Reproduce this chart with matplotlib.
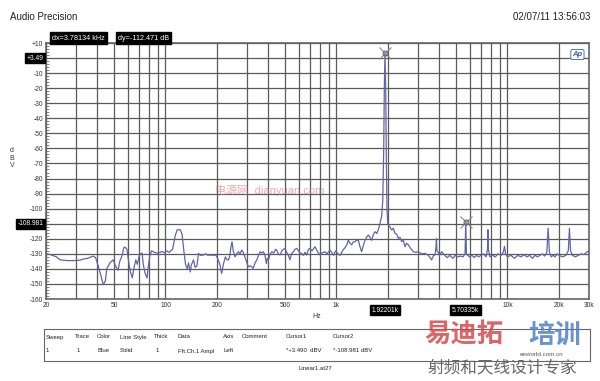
import matplotlib
matplotlib.use("Agg")
import matplotlib.pyplot as plt
import numpy as np

plt.rcParams['font.family'] = ['Liberation Sans', 'Noto Sans CJK SC', 'DejaVu Sans']

# FFT trace (Hz, dBV)
freq = [20, 21.2, 23, 24.2, 26.6, 29, 31.7, 33, 35, 37.7, 39, 40.4, 42, 43.2, 44.5, 45.3,
        47.3, 49.4, 51, 52.8, 54, 55.8, 57, 58, 59.5, 60.5, 62, 63.9, 65.5, 67, 68.4, 70,
        71.1, 73, 74.1, 76, 78, 79, 81, 83, 86, 89, 93, 96, 99.2, 101, 105, 110, 114, 117,
        122, 125, 128, 131, 134, 136.5, 139.5, 142, 145.9, 149, 152.7, 156, 160, 166.7, 172,
        177, 182, 190, 195, 199, 203, 208, 213, 218, 224, 229, 234, 238, 241, 245, 249, 255,
        261, 267, 273, 279, 285, 291, 297, 305, 315, 326, 334, 342, 350, 358, 366, 374, 382,
        389, 394, 400, 410, 419, 430, 440, 447, 457, 467, 480, 490, 500, 512, 523, 535, 545,
        560, 572, 585, 600, 612, 625, 640, 655, 669, 685, 700, 720, 749, 770, 801, 820, 857,
        880, 917, 937, 960, 990, 1020, 1050, 1073, 1100, 1121, 1150, 1173, 1200, 1227, 1255,
        1283, 1310, 1343, 1370, 1404, 1440, 1469, 1500, 1536, 1570, 1607, 1645, 1681, 1720,
        1758, 1797, 1838, 1865, 1890, 1905, 1922.01, 1940, 1955, 1975, 1995, 2010, 2050,
        2103, 2150, 2199, 2250, 2301, 2350, 2406, 2460, 2517, 2570, 2633, 2700, 2816, 2900,
        3011, 3150, 3294, 3450, 3603, 3700, 3769, 3820, 3844, 3870, 3942, 4000, 4123, 4300,
        4450, 4600, 4800, 4950, 5100, 5300, 5500, 5650, 5703.35, 5760, 5850, 6000, 6200,
        6400, 6600, 6800, 7000, 7250, 7500, 7650, 7690, 7730, 7900, 8200, 8500, 8800, 9200,
        9450, 9610, 9750, 10000, 10500, 11000, 11500, 12000, 12500, 13000, 13500, 14000,
        14500, 15000, 15500, 16000, 16500, 17000, 17300, 17600, 18000, 18500, 19000, 19500,
        20000, 21000, 22000, 22700, 23060, 23400, 24000, 25000, 26000, 27000, 28000, 29000,
        30000]
level = [-130, -130.5, -132, -134, -134.5, -134.5, -134.2, -133.5, -133, -131.5, -132.5,
         -138, -145, -150.5, -148, -140, -136, -134, -138, -141, -135, -131, -126, -125.5,
         -127, -133, -141, -146, -139, -134, -137, -132, -130, -129.5, -137, -143, -146, -140,
         -131, -128, -129, -129.5, -129, -128.5, -129.5, -128, -129, -127, -118, -114, -114,
         -117, -128, -137, -140, -136, -142, -137, -134, -139, -138, -129.7, -131, -130.8,
         -130, -131, -130.8, -131, -130.8, -131.5, -134, -137, -143, -137, -132, -134, -134,
         -131, -126, -122, -128, -132, -130, -128.6, -130, -127.5, -129, -132, -135, -138.6,
         -138, -139.6, -136, -134, -131, -128.6, -129.5, -128.6, -131, -136.5, -133, -134,
         -130, -128.6, -129.5, -127, -127.5, -130, -130.8, -128, -127, -126.4, -129, -131,
         -134, -130, -128.6, -127, -126.4, -128, -129.5, -129.7, -131, -129, -130.8, -127,
         -126.4, -128, -125.3, -128, -130.8, -129.5, -128.6, -130, -127.5, -129, -131, -128,
         -130, -131, -129, -127, -126, -124, -121, -123, -124, -122, -122, -121, -121, -125,
         -128.6, -124, -121, -119, -117.5, -119, -121, -117, -115.3, -116.5, -114, -110, -105,
         -95, -60, -20, 3.49, -20, -60, -100, -110, -111, -112, -114.2, -113, -116.4, -117,
         -119.7, -119, -121.9, -121, -125.3, -123, -124, -126, -128.6, -129, -128.6, -130,
         -129.7, -131, -134, -131, -130.8, -126, -120, -128, -129, -131, -128.6, -131, -132.5,
         -131, -133, -131, -132, -131.5, -132, -130, -108.981, -130, -131, -132, -131,
         -132.5, -131, -132, -131, -130, -132, -127, -114, -127, -132, -131, -132, -130, -131,
         -129, -125, -130, -132, -131, -133, -131, -132, -130.5, -132, -131, -133, -131, -132,
         -131, -130, -131.5, -129, -113, -129, -132, -131, -132, -130, -131, -132, -131,
         -128, -113, -128, -131, -132, -131, -130, -130.5, -129, -128]

# cursors
cur_f = [1922.01, 5703.35]
cur_db = [3.49, -108.981]

yticks = list(range(10, -161, -10))
xgrid = ([20, 30, 40, 50, 60, 70, 80, 90] + list(range(100, 1000, 100))
         + list(range(1000, 10000, 1000)) + [10000, 20000, 30000])
xlabels = {20: '20', 50: '50', 100: '100', 200: '200', 500: '500', 1000: '1k',
           10000: '10k', 20000: '20k', 30000: '30k'}

fig = plt.figure(figsize=(6, 3.81), dpi=100)
ax = fig.add_axes([46/600, 82/381, 543/600, 256/381])

ax.plot(freq, level, color='#6065a8', lw=0.9)
for f, d in zip(cur_f, cur_db):
    ax.plot(f, d, marker='x', ms=8, mew=0.8, color='#888888')
    ax.plot(f, d, marker='o', ms=3.5, mfc='none', mew=0.8, color='#666666')

ax.set_xscale('log')
ax.set_xlim(20, 30000)
ax.set_ylim(-160, 10)

ax.set_xticks(xgrid)
ax.set_xticklabels([xlabels.get(v, '') for v in xgrid])
ax.xaxis.set_minor_locator(matplotlib.ticker.NullLocator())
ax.set_yticks(yticks)
ax.set_yticklabels(['' if v in (0, -110) else ('%+d' % v if v else '0') for v in yticks])
ax.yaxis.set_minor_locator(matplotlib.ticker.MultipleLocator(2))
ax.tick_params(axis='both', which='major', length=0, labelsize=4.8, colors='#333333', pad=2)
ax.tick_params(axis='y', which='minor', direction='in', length=2.5, width=0.5, color='#555555')
ax.grid(True, which='major', color='#5a5a5a', lw=0.9)
for s in ax.spines.values():
    s.set_color('#666666')
    s.set_linewidth(1.2)

# cursor readouts
box = dict(boxstyle='square,pad=0.25', fc='black', ec='black')
ax.text(-0.004, 0, '+3.49', transform=ax.get_yaxis_transform(), ha='right', va='center',
        color='white', fontsize=4.8, bbox=box)
ax.text(-0.004, -110, '-108.981', transform=ax.get_yaxis_transform(), ha='right', va='center',
        color='white', fontsize=4.8, bbox=box)
ax.text(cur_f[0], -0.03, '1.92201k', transform=ax.get_xaxis_transform(), ha='center', va='top',
        color='white', fontsize=4.8, bbox=box)
ax.text(cur_f[1], -0.03, '5.70335k', transform=ax.get_xaxis_transform(), ha='center', va='top',
        color='white', fontsize=4.8, bbox=box)
fig.text(52/600, 1 - 38/381, 'dx=3.78134 kHz', color='white', fontsize=5.2, va='center',
         bbox=dict(boxstyle='square,pad=0.3', fc='black'))
fig.text(118/600, 1 - 38/381, 'dy=-112.471 dB', color='white', fontsize=5.2, va='center',
         bbox=dict(boxstyle='square,pad=0.3', fc='black'))

ax.text(0.988, 0.955, 'Ap', transform=ax.transAxes, ha='right', va='center', color='#3a5fb0',
        fontsize=5.5, style='italic', fontweight='bold',
        bbox=dict(boxstyle='round,pad=0.2', fc='white', ec='#3a5fb0', lw=0.6))

fig.text(10/600, 1 - 17/381, 'Audio Precision', fontsize=7, color='#222222', va='center')
fig.text(590/600, 1 - 17/381, '02/07/11 13:56:03', fontsize=7, color='#222222',
         va='center', ha='right')
fig.text(12/600, 1 - 158/381, 'd\nB\nV', fontsize=5, color='#333333', ha='center',
         va='center', linespacing=1.1)
fig.text(317/600, 1 - 317/381, 'Hz', fontsize=5, color='#333333', ha='center', va='center')

# watermark
fig.text(215/600, 1 - 190/381, '电源网  dianyuan.com', fontsize=8, color='#e07070',
         alpha=0.6, va='center')

# legend table
tab = fig.add_axes([44/600, 1 - 361/381, 546/600, 32/381])
tab.set_xlim(44, 590)
tab.set_ylim(361, 329)
tab.set_xticks([])
tab.set_yticks([])
for s in tab.spines.values():
    s.set_color('#666666')
    s.set_linewidth(0.8)
hdr = ['Sweep', 'Trace', 'Color', 'Line Style', 'Thick', 'Data', 'Axis', 'Comment',
       'Cursor1', 'Cursor2']
row = ['1', '1', 'Blue', 'Solid', '1', 'Fft.Ch.1 Ampl', 'Left', '', '*+3.490  dBV',
       '*-108.981 dBV']
colx = [46, 75, 97, 120, 154, 178, 223, 242, 286, 333]
for cx, h, r in zip(colx, hdr, row):
    tab.text(cx, 337, h, fontsize=4.3, color='#222222', va='center')
    tab.text(cx + (2 if r in ('1',) and cx > 50 else 0), 351, r, fontsize=4.3,
             color='#222222', va='center')
fig.text(315/600, 1 - 369/381, 'Linear1.at27', fontsize=4.3, color='#222222',
         ha='center', va='center')

# bottom-right watermark
fig.text(424/600, 1 - 335/381, '易迪拓', fontsize=19, color='#d84a4a', alpha=0.85,
         va='center', fontweight='bold')
fig.text(528/600, 1 - 335/381, '培训', fontsize=19, color='#4f7fc8', alpha=0.85,
         va='center', fontweight='bold')
fig.text(520/600, 1 - 354/381, 'eeworld.com.cn', fontsize=4.5, color='#555555', va='center')
fig.text(428/600, 1 - 368/381, '射频和天线设计专家', fontsize=12, color='#666666',
         va='center')

fig.savefig('out.png', dpi=100)
